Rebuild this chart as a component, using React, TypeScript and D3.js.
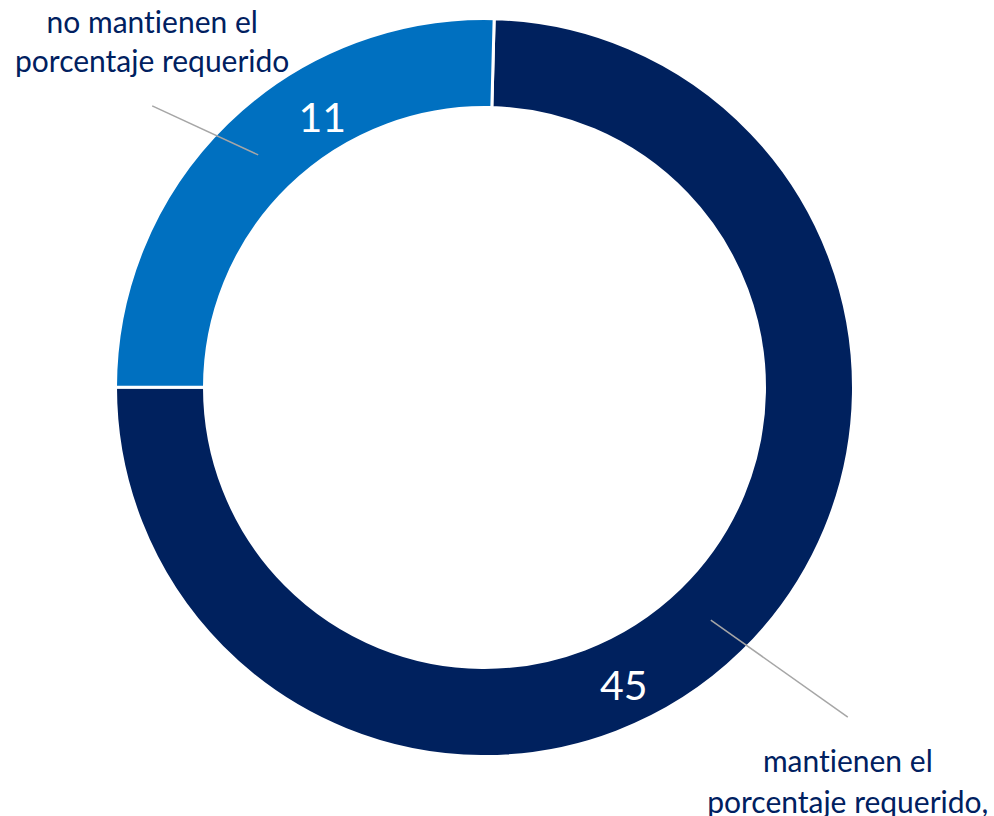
import React from "react";
import * as d3 from "d3";

// Data
const categories = ["mantienen el porcentaje requerido,", "no mantienen el porcentaje requerido"];
const labelLines = [["mantienen el", "porcentaje requerido,"], ["no mantienen el", "porcentaje requerido"]];
const values = [45, 11];
// share of the ring each slice occupies as drawn (percent)
const ringShare = [74.6, 25.4];
const colors = ["#00215E", "#0070C0"];

const W = 994;
const H = 816;
const cx = 484.5;
const cy = 387.5;
const outerR = 369;
const innerR = 280;
const startOffset = (1.5 * Math.PI) / 180;

// label layout relative to each slice's centroid
const leaderEnd = [
  [137, 97],
  [-106, -49],
];
const catTextOffset = [
  [152, 193],
  [-122, -83],
];
const valueOffset = [
  [-87, 80],
  [64, -23],
];

export default function App() {
  const pie = d3
    .pie<number>()
    .sort(null)
    .value((d) => d)
    .startAngle(startOffset)
    .endAngle(2 * Math.PI + startOffset);
  const arcs = pie(ringShare);
  const arc = d3.arc<d3.PieArcDatum<number>>().innerRadius(innerR).outerRadius(outerR);
  const font = "Lato, 'Open Sans', sans-serif";

  return (
    <svg
      width={W}
      height={H}
      style={{ position: "absolute", left: 0, top: 0, background: "#fff", fontVariantLigatures: "none" }}
      fontFamily={font}
    >
      <g transform={`translate(${cx},${cy})`}>
        {arcs.map((a, i) => (
          <path key={categories[i]} d={arc(a) || ""} fill={colors[i]} stroke="#fff" strokeWidth={3} />
        ))}
        {arcs.map((a, i) => {
          const [x, y] = arc.centroid(a);
          const [ex, ey] = leaderEnd[i];
          return (
            <line
              key={"l" + i}
              x1={x}
              y1={y}
              x2={x + ex}
              y2={y + ey}
              stroke="#A6A6A6"
              strokeWidth={1.5}
            />
          );
        })}
        {arcs.map((a, i) => {
          const [x, y] = arc.centroid(a);
          const [ex] = leaderEnd[i];
          const [y1, y2] = catTextOffset[i];
          return (
            <text key={"c" + i} textAnchor="middle" fill="#002060" fontSize={30}>
              <tspan x={x + ex} y={y + y1}>
                {labelLines[i][0]}
              </tspan>
              <tspan x={x + ex} y={y + y2}>
                {labelLines[i][1]}
              </tspan>
            </text>
          );
        })}
        {arcs.map((a, i) => {
          const [x, y] = arc.centroid(a);
          const [dx, dy] = valueOffset[i];
          return (
            <text key={"v" + i} x={x + dx} y={y + dy} textAnchor="middle" fill="#fff" fontSize={41}>
              {values[i]}
            </text>
          );
        })}
      </g>
    </svg>
  );
}
